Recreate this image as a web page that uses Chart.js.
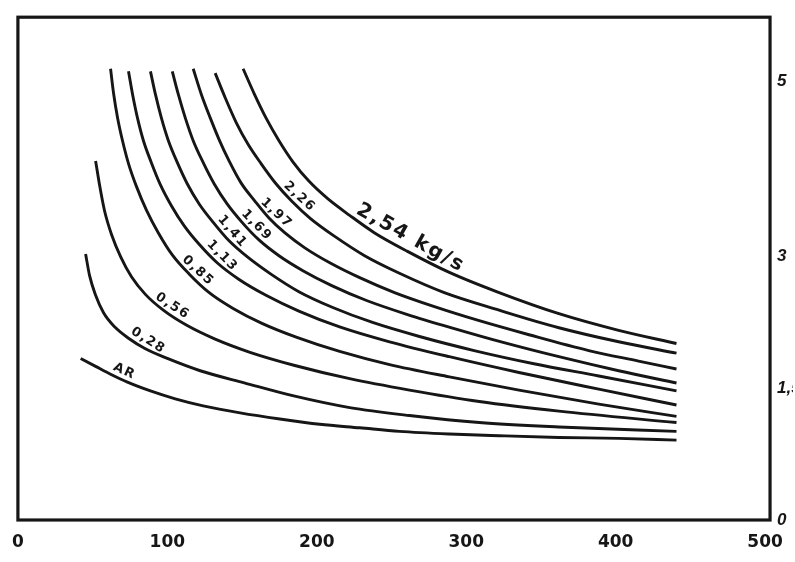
<!DOCTYPE html>
<html>
<head>
<meta charset="utf-8">
<script src="https://cdn.jsdelivr.net/npm/chart.js@4/dist/chart.umd.min.js"></script>
<style>
  html, body { margin: 0; padding: 0; background: #fff; }
  #wrap { width: 795px; height: 562px; }
</style>
</head>
<body>
<div id="wrap"><canvas id="c" width="795" height="562"></canvas></div>
<script>
// One curve per mass flow rate; each point is [x, y] in axis units
const flowAR  = [[42,1.84],[52,1.75],[62,1.66],[73.3,1.57],[88.7,1.47],[105.3,1.38],[124,1.30],[148.7,1.22],[175.3,1.15],[202,1.09],[228.7,1.05],[255.3,1.01],[288.7,0.98],[322,0.96],[362,0.94],[402,0.93],[440.7,0.91]];
const flow028 = [[45.3,3.03],[48,2.78],[52,2.56],[57.3,2.36],[64.7,2.20],[74,2.07],[85.3,1.95],[100,1.84],[122,1.70],[152,1.56],[185.3,1.41],[222,1.28],[262,1.19],[308.7,1.11],[362,1.06],[440.7,1.01]];
const flow056 = [[52,4.09],[54.7,3.81],[58,3.52],[62.7,3.25],[68.7,3.0],[76,2.77],[85.3,2.57],[97.3,2.39],[112.7,2.22],[132,2.06],[155.3,1.91],[185.3,1.76],[222,1.61],[262,1.48],[308.7,1.35],[362,1.24],[440.7,1.11]];
const flow085 = [[62,5.14],[64,4.86],[66.7,4.58],[70,4.32],[74,4.06],[79.3,3.80],[86,3.53],[94,3.27],[103.3,3.02],[114.7,2.80],[128,2.59],[144,2.41],[163.3,2.24],[186.7,2.08],[215.3,1.92],[248.7,1.77],[288.7,1.63],[335.3,1.48],[388.7,1.32],[440.7,1.18]];
const flow113 = [[74,5.11],[76.7,4.85],[80,4.58],[84,4.32],[89.3,4.07],[95.3,3.82],[102.7,3.58],[111.3,3.35],[121.3,3.14],[133.3,2.93],[148,2.74],[166,2.56],[188,2.38],[215.3,2.20],[248.7,2.03],[288.7,1.86],[335.3,1.68],[388.7,1.49],[440.7,1.31]];
const flow141 = [[88.7,5.11],[92,4.85],[96,4.58],[100.7,4.32],[106.7,4.07],[113.3,3.83],[121.3,3.60],[130.7,3.39],[141.3,3.18],[154,2.99],[169.3,2.80],[188,2.60],[210.7,2.42],[237.3,2.25],[268.7,2.09],[305.3,1.93],[345.3,1.78],[388.7,1.64],[440.7,1.47]];
const flow169 = [[103.3,5.11],[107.3,4.85],[112,4.58],[117.3,4.32],[124,4.07],[131.3,3.83],[140,3.60],[150,3.39],[161.3,3.19],[174.7,3.01],[190.7,2.84],[210,2.67],[233.3,2.50],[260.7,2.34],[292,2.18],[325.3,2.02],[362,1.86],[402,1.70],[440.7,1.56]];
const flow197 = [[117.3,5.14],[122.7,4.85],[128.7,4.58],[134.7,4.33],[141.3,4.09],[149.3,3.84],[158.7,3.63],[168,3.44],[178.7,3.27],[192,3.10],[208.7,2.93],[228.7,2.76],[252,2.59],[278.7,2.43],[308.7,2.27],[342,2.11],[382,1.93],[415.3,1.81],[440.7,1.72]];
const flow226 = [[132,5.09],[138.7,4.81],[146,4.53],[154,4.28],[162.7,4.06],[172.7,3.83],[183.3,3.63],[196,3.43],[212,3.23],[232,3.01],[255.3,2.81],[285.3,2.59],[322,2.39],[362,2.19],[402,2.03],[440.7,1.90]];
const flow254 = [[150.7,5.14],[158,4.86],[166,4.58],[174.7,4.32],[184,4.08],[194.7,3.86],[207.3,3.66],[222,3.47],[238.7,3.27],[260.7,3.06],[288.7,2.82],[322,2.59],[362,2.35],[402,2.16],[440.7,2.01]];

const curveNames = ['AR', '0,28', '0,56', '0,85', '1,13', '1,41', '1,69', '1,97', '2,26', '2,54 kg/s'];
const curveData  = [flowAR, flow028, flow056, flow085, flow113, flow141, flow169, flow197, flow226, flow254];

const xTicks = [0, 100, 200, 300, 400, 500];
const yTicks = [0, 1.5, 3, 5];

// where along each curve (fractional point index) its name is written
const nameAt = [2.6, 5.9, 7.2, 9.15, 8.95, 7.8, 7.5, 7.1, 6.1, 8.9];

const INK = '#161616';

const paperPlugin = {
  id: 'paper',
  beforeDraw(chart) {
    const c = chart.ctx;
    c.save();
    c.fillStyle = '#ffffff';
    c.fillRect(0, 0, chart.width, chart.height);
    c.restore();
  }
};

const framePlugin = {
  id: 'frame',
  beforeDatasetsDraw(chart) {
    const a = chart.chartArea, c = chart.ctx;
    c.save();
    c.strokeStyle = INK;
    c.lineWidth = 3.2;
    c.strokeRect(a.left, a.top, a.right - a.left, a.bottom - a.top);
    c.restore();
  }
};

const curveNamePlugin = {
  id: 'curveNames',
  afterDatasetsDraw(chart) {
    const c = chart.ctx;
    const n = chart.data.datasets.length;
    chart.data.datasets.forEach((ds, i) => {
      const pts = chart.getDatasetMeta(i).data;
      const f = nameAt[i];
      const k = Math.floor(f), t = f - k;
      const p = pts[k], q = pts[Math.min(k + 1, pts.length - 1)];
      const x = p.x + (q.x - p.x) * t;
      const y = p.y + (q.y - p.y) * t;
      const ang = Math.atan2(q.y - p.y, q.x - p.x);
      const big = i === n - 1;
      c.save();
      c.translate(x, y);
      c.rotate(ang);
      c.font = big ? 'bold 20px "DejaVu Sans"' : 'bold 13px "DejaVu Sans"';
      c.letterSpacing = big ? '2px' : '1.5px';
      c.fillStyle = INK;
      c.textAlign = 'center';
      c.textBaseline = 'bottom';
      c.fillText(ds.label, 0, big ? -3 : -2);
      c.restore();
    });
  }
};

new Chart(document.getElementById('c'), {
  type: 'line',
  data: {
    datasets: curveData.map((pts, i) => ({
      label: curveNames[i],
      data: pts.map(([x, y]) => ({ x, y })),
      borderColor: INK,
      borderWidth: 2.9,
      pointRadius: 0,
      fill: false,
      cubicInterpolationMode: 'monotone'
    }))
  },
  options: {
    responsive: false,
    devicePixelRatio: 1,
    animation: false,
    layout: { padding: { left: 17, top: 16, right: 0, bottom: 0 } },
    plugins: { legend: { display: false }, tooltip: { enabled: false } },
    scales: {
      x: {
        type: 'linear',
        min: 0,
        max: 503.3,
        afterBuildTicks: s => { s.ticks = xTicks.map(v => ({ value: v })); },
        afterFit: s => { s.height = 42; },
        grid: { display: false, drawTicks: false },
        border: { display: false },
        ticks: {
          padding: 12,
          color: INK,
          maxRotation: 0,
          autoSkip: false,
          font: { family: 'DejaVu Sans', size: 17, weight: 'bold' }
        }
      },
      y: {
        type: 'linear',
        position: 'right',
        min: 0,
        max: 5.727,
        afterBuildTicks: s => { s.ticks = yTicks.map(v => ({ value: v })); },
        afterFit: s => { s.width = 23; },
        grid: { display: false, drawTicks: false },
        border: { display: false },
        ticks: {
          padding: 7,
          color: INK,
          font: { family: 'Liberation Sans', size: 17, weight: 'bold', style: 'italic' },
          callback: v => String(v).replace('.', ',')
        }
      }
    }
  },
  plugins: [paperPlugin, framePlugin, curveNamePlugin]
});
</script>
</body>
</html>
